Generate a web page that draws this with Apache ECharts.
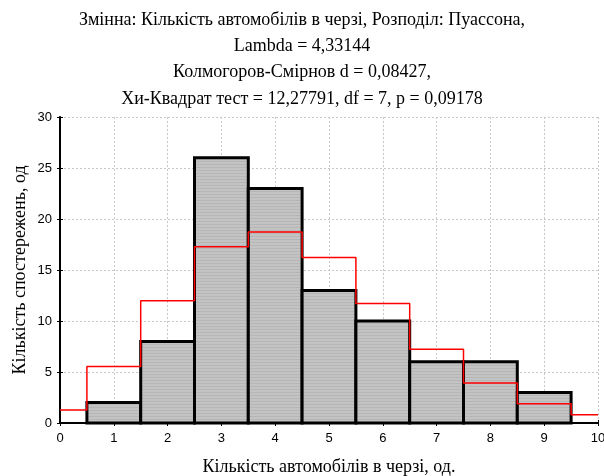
<!DOCTYPE html>
<html>
<head>
<meta charset="utf-8">
<script src="https://cdn.jsdelivr.net/npm/echarts@6/dist/echarts.min.js"></script>
<style>
  html, body { margin: 0; padding: 0; background: #fff; }
  #chart { width: 604px; height: 476px; }
</style>
</head>
<body>
<div id="chart"></div>
<script>
// Observed counts per number of cars in the queue
const categories = [1, 2, 3, 4, 5, 6, 7, 8, 9];
const observed = [2, 8, 26, 23, 13, 10, 6, 6, 3];

// Expected Poisson counts (step curve), at x = 0..10
const expectedX = [0, 1, 2, 3, 4, 5, 6, 7, 8, 9, 10];
const expected = [1.28, 5.53, 11.98, 17.29, 18.72, 16.22, 11.71, 7.24, 3.92, 1.89, 0.82];

const titleLines = [
  'Змінна: Кількість автомобілів в черзі, Розподіл: Пуассона,',
  'Lambda = 4,33144',
  'Колмогоров-Смірнов d = 0,08427,',
  'Хи-Квадрат тест = 12,27791, df = 7, p = 0,09178'
];
const xName = 'Кількість автомобілів в черзі, од.';
const yName = 'Кількість спостережень, од';

// Grey fill with fine horizontal stripes
const pat = document.createElement('canvas');
pat.width = 4; pat.height = 3;
const pctx = pat.getContext('2d');
pctx.fillStyle = '#c3c3c3';
pctx.fillRect(0, 0, 4, 3);
pctx.fillStyle = '#b6b6b6';
pctx.fillRect(0, 2, 4, 1);

const chart = echarts.init(document.getElementById('chart'), null, { renderer: 'canvas' });

const serif = '"Liberation Serif", "Times New Roman", serif';
const sans = '"Liberation Sans", Arial, sans-serif';

chart.setOption({
  animation: false,
  backgroundColor: '#ffffff',
  title: {
    text: titleLines.join('\n'),
    left: 'center',
    top: 2,
    textStyle: { fontFamily: serif, fontSize: 18, fontWeight: 'normal', color: '#000', lineHeight: 26.3 }
  },
  grid: { left: 60, right: 6, top: 117, bottom: 53, outerBoundsMode: 'none', containLabel: false },
  xAxis: [{
    type: 'value', min: 0, max: 10, interval: 1,
    name: xName, nameLocation: 'middle', nameGap: 35, nameMoveOverlap: false,
    nameTextStyle: { fontFamily: serif, fontSize: 18, color: '#000' },
    axisLine: { show: true, lineStyle: { color: '#000', width: 2 } },
    axisTick: { show: true, inside: true, length: 3, lineStyle: { color: '#000' } },
    axisLabel: { fontFamily: sans, fontSize: 13, color: '#000', margin: 9 },
    splitLine: { show: true, lineStyle: { color: '#c8c8c8', type: [2, 2], width: 1 } }
  }, {
    type: 'value', min: 0, max: 10, interval: 1, position: 'top',
    axisLine: { show: true, lineStyle: { color: '#000', width: 1.2 } },
    axisTick: { show: true, inside: true, length: 3, lineStyle: { color: '#000' } },
    axisLabel: { show: false }, splitLine: { show: false }
  }],
  yAxis: [{
    type: 'value', min: 0, max: 30, interval: 5,
    name: yName, nameLocation: 'middle', nameGap: 31, nameRotate: 90, nameMoveOverlap: false,
    nameTextStyle: { fontFamily: serif, fontSize: 18, color: '#000' },
    axisLine: { show: true, lineStyle: { color: '#000', width: 2 } },
    axisTick: { show: true, inside: true, length: 3, lineStyle: { color: '#000' } },
    axisLabel: { fontFamily: sans, fontSize: 13, color: '#000', margin: 8 },
    splitLine: { show: true, lineStyle: { color: '#c8c8c8', type: [2, 2], width: 1 } }
  }, {
    type: 'value', min: 0, max: 30, interval: 5, position: 'right',
    axisLine: { show: true, lineStyle: { color: '#000', width: 1.5 } },
    axisTick: { show: true, inside: true, length: 3, lineStyle: { color: '#000' } },
    axisLabel: { show: false }, splitLine: { show: false }
  }],
  series: [{
    type: 'custom',
    data: categories.map((c, i) => [c, observed[i]]),
    encode: { x: 0, y: 1 },
    z: 2,
    renderItem: function (params, api) {
      const x = api.value(0), y = api.value(1);
      const p0 = api.coord([x - 0.5, 0]);
      const p1 = api.coord([x + 0.5, y]);
      return {
        type: 'rect',
        shape: { x: p0[0], y: p1[1], width: p1[0] - p0[0], height: p0[1] - p1[1] },
        style: { fill: { image: pat, repeat: 'repeat' }, stroke: '#000', lineWidth: 3 }
      };
    }
  }, {
    type: 'line',
    step: 'middle',
    data: expectedX.map((x, i) => [x, expected[i]]),
    symbol: 'none',
    z: 3,
    lineStyle: { color: '#ff0000', width: 1.5 }
  }]
});
</script>
</body>
</html>
